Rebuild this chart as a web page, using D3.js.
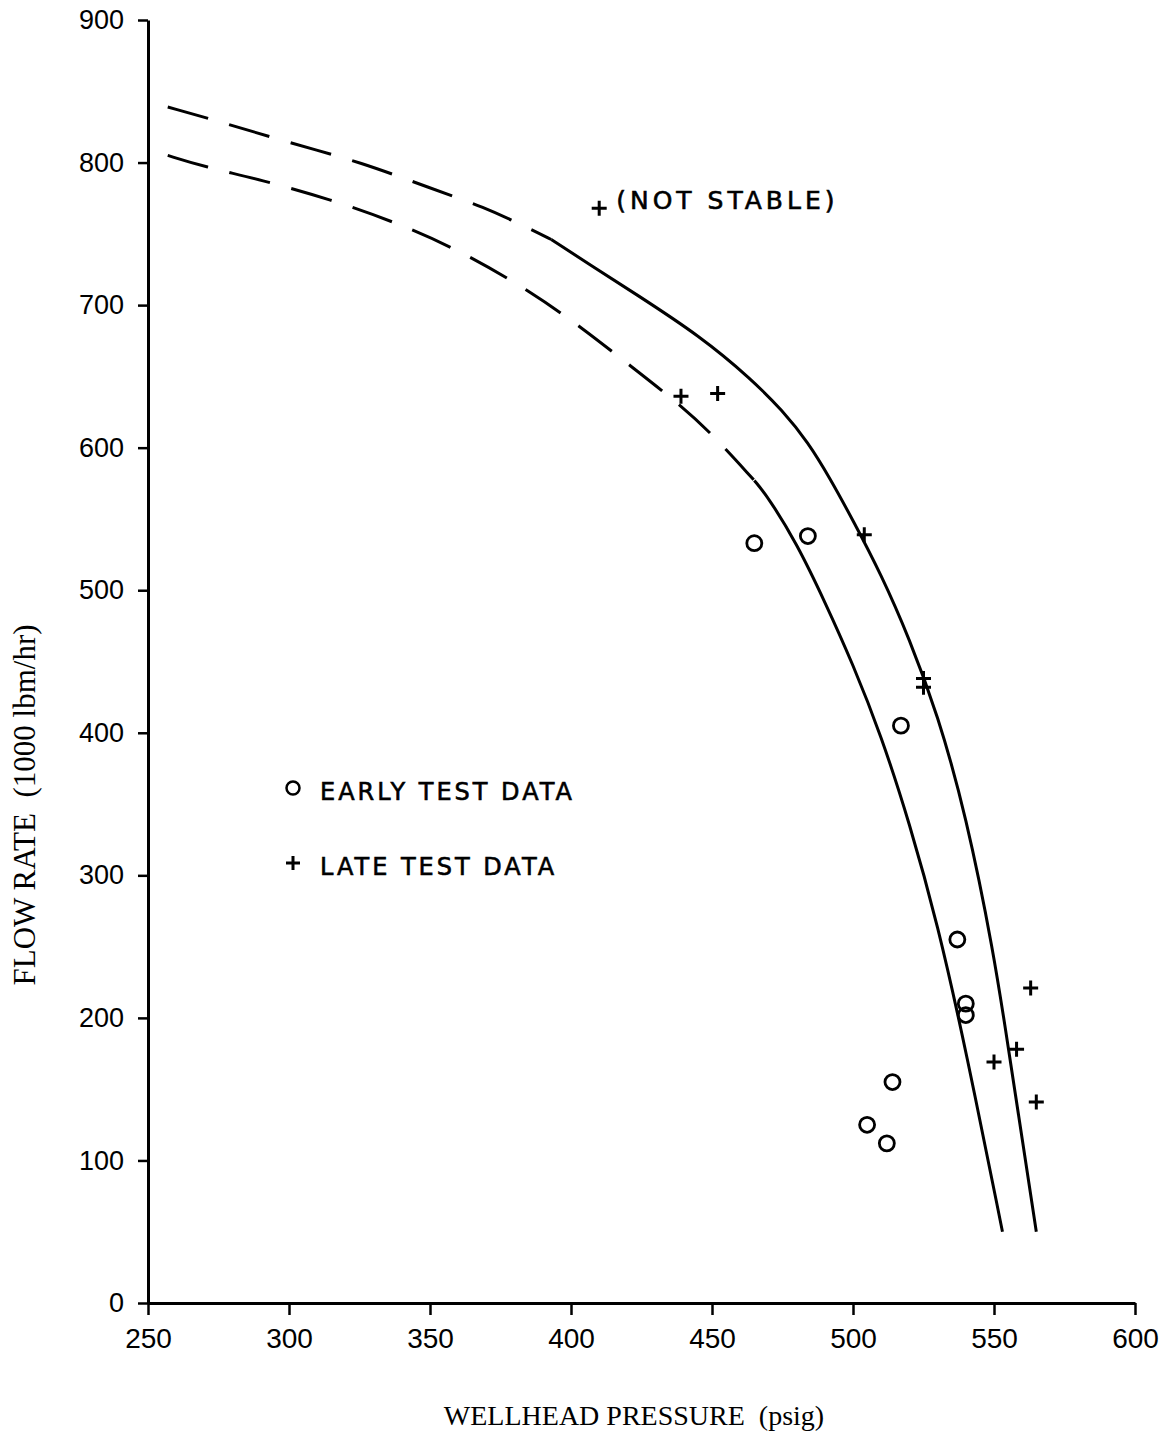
<!DOCTYPE html>
<html>
<head>
<meta charset="utf-8">
<script src="https://cdn.jsdelivr.net/npm/d3@7"></script>
<style>
  body { margin: 0; background: #fff; }
  svg { display: block; }
</style>
</head>
<body>
<svg id="chart" width="1170" height="1432"></svg>
<script>
// axis ticks
const xTicks = [250, 300, 350, 400, 450, 500, 550, 600];
const yTicks = [0, 100, 200, 300, 400, 500, 600, 700, 800, 900];

// curves: [wellhead pressure, flow rate]
const upperCurve = [[257,839],[275,829],[300,814],[326,800],[350,782],[369,769],[386,753],
  [393,746],[407,728],[422,709],[446,678],[464,648],[475,626],[484,604],[492,578],[500,549],
  [510,511],[520,466],[530,413],[540,343],[550,245],[555,180],[560,115],[565,50]];
const upperDashedUntil = 393;

const lowerCurve = [[257,805],[270,797],[290,788],[315,774],[338,758],[362,737],[386,709],
  [404,684],[420,659],[435,636],[449,612],[465,577],[470,565],[480,533],[490,492],[500,448],
  [510,398],[520,337],[530,266],[540,178],[553,50]];
const lowerDashedUntil = 465;

const earlyTest = [[465,533],[484,538],[517,405],[537,255],[540,210],[540,202],[514,155],[505,125],[512,112]];
const lateTest = [[439,636],[452,638],[504,539],[525,438],[525,432],[563,221],[558,178],[550,169],[565,141]];
const notStable = [[410,768]];

const svg = d3.select("#chart");

const x = d3.scaleLinear().domain([250, 600]).range([148, 1135]);
const y = d3.scaleLinear().domain([0, 900]).range([1303, 20]);

const ink = "#000";
const plotterFont = "'DejaVu Sans', sans-serif";

// axes
const xAxis = svg.append("g")
    .attr("transform", `translate(0,${y(0)})`)
    .call(d3.axisBottom(x).tickValues(xTicks).tickSize(12).tickSizeOuter(0).tickPadding(12));

const yAxis = svg.append("g")
    .attr("transform", `translate(${x(250)},0)`)
    .call(d3.axisLeft(y).tickValues(yTicks).tickSize(10).tickSizeOuter(0).tickPadding(14));

[xAxis, yAxis].forEach(a => {
    a.select(".domain").attr("stroke", ink).attr("stroke-width", 3);
    a.selectAll(".tick line").attr("stroke", ink).attr("stroke-width", 2.5);
    a.selectAll(".tick text")
        .attr("fill", ink)
        .style("font-family", "'Liberation Sans', Arial, sans-serif");
});
xAxis.selectAll(".tick text").style("font-size", "28px").attr("dy", "0.75em");
yAxis.selectAll(".tick text").style("font-size", "27px");

// axis titles
svg.append("text")
    .attr("x", 634)
    .attr("y", 1425)
    .attr("text-anchor", "middle")
    .style("font-family", "'Liberation Serif', 'Times New Roman', serif")
    .style("font-size", "28px")
    .attr("xml:space", "preserve")
    .text("WELLHEAD PRESSURE  (psig)");

svg.append("text")
    .attr("transform", "translate(35,805) rotate(-90)")
    .attr("text-anchor", "middle")
    .style("font-family", "'Liberation Serif', 'Times New Roman', serif")
    .style("font-size", "31px")
    .attr("xml:space", "preserve")
    .text("FLOW RATE  (1000 lbm/hr)");

// curves, dashed part then solid part
const line = d3.line()
    .x(d => x(d[0]))
    .y(d => y(d[1]))
    .curve(d3.curveBasis);

function drawCurve(points, dashedUntil) {
    const dashed = points.filter(d => d[0] <= dashedUntil);
    const solid = points.filter(d => d[0] >= dashedUntil);
    svg.append("path")
        .attr("d", line(dashed))
        .attr("fill", "none")
        .attr("stroke", ink)
        .attr("stroke-width", 3)
        .attr("stroke-dasharray", "42,22");
    svg.append("path")
        .attr("d", line(solid))
        .attr("fill", "none")
        .attr("stroke", ink)
        .attr("stroke-width", 3);
}
drawCurve(upperCurve, upperDashedUntil);
drawCurve(lowerCurve, lowerDashedUntil);

// markers
function plus(g, cx, cy, half) {
    g.append("path")
        .attr("d", `M${cx - half},${cy}H${cx + half}M${cx},${cy - half}V${cy + half}`)
        .attr("stroke", ink)
        .attr("stroke-width", 3)
        .attr("fill", "none");
}

svg.append("g")
    .selectAll("circle")
    .data(earlyTest)
    .join("circle")
    .attr("cx", d => x(d[0]))
    .attr("cy", d => y(d[1]))
    .attr("r", 7.5)
    .attr("fill", "none")
    .attr("stroke", ink)
    .attr("stroke-width", 2.8);

const plusLayer = svg.append("g");
lateTest.concat(notStable).forEach(d => plus(plusLayer, x(d[0]), y(d[1]), 7.5));

// annotation next to the unstable point
svg.append("text")
    .attr("x", x(notStable[0][0]) + 17)
    .attr("y", y(notStable[0][1]) + 1)
    .style("font-family", plotterFont)
    .style("font-size", "25px")
    .style("letter-spacing", "4px")
    .attr("stroke", ink)
    .attr("stroke-width", 0.6)
    .text("(NOT STABLE)");

// legend
const legend = svg.append("g");

legend.append("circle")
    .attr("cx", 293)
    .attr("cy", 788)
    .attr("r", 6.5)
    .attr("fill", "none")
    .attr("stroke", ink)
    .attr("stroke-width", 2.5);

legend.append("text")
    .attr("x", 320)
    .attr("y", 800)
    .style("font-family", plotterFont)
    .style("font-size", "24px")
    .style("letter-spacing", "3px")
    .attr("stroke", ink)
    .attr("stroke-width", 0.6)
    .text("EARLY TEST DATA");

plus(legend, 293, 863, 7);

legend.append("text")
    .attr("x", 320)
    .attr("y", 875)
    .style("font-family", plotterFont)
    .style("font-size", "24px")
    .style("letter-spacing", "3px")
    .attr("stroke", ink)
    .attr("stroke-width", 0.6)
    .text("LATE TEST DATA");
</script>
</body>
</html>
